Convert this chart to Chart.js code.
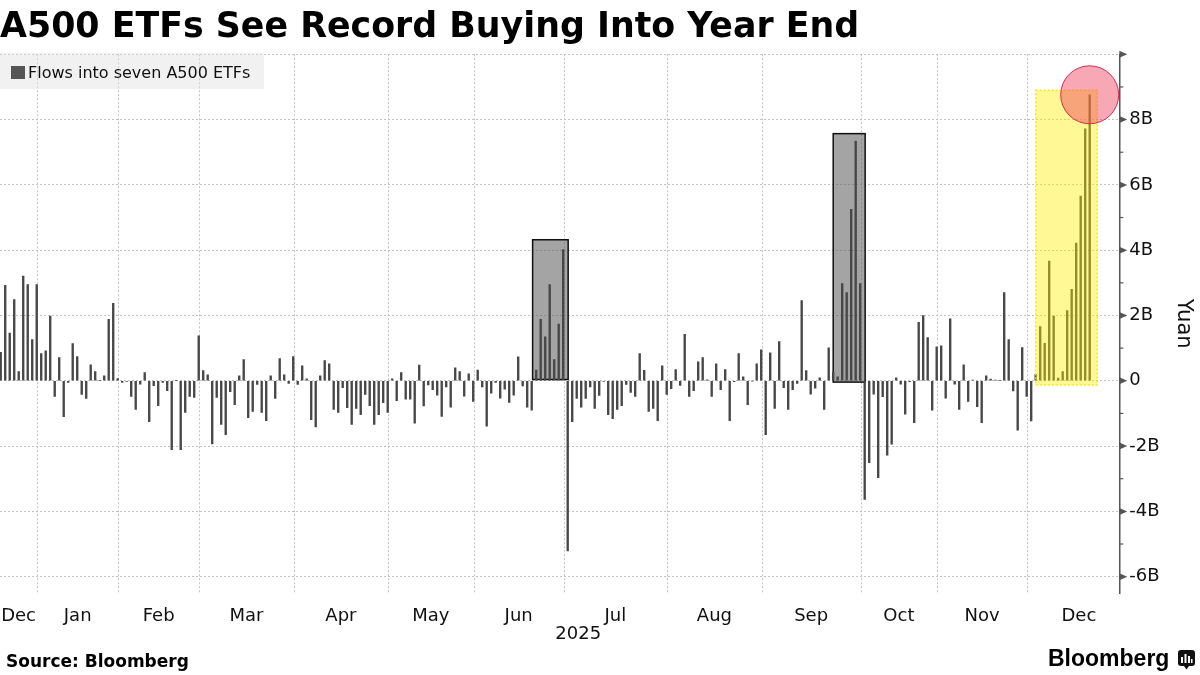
<!DOCTYPE html>
<html>
<head>
<meta charset="utf-8">
<script src="https://cdn.jsdelivr.net/npm/chart.js@4.4.1/dist/chart.umd.min.js"></script>
<style>
  html, body { margin: 0; padding: 0; background: #fff; }
  #wrap { position: relative; width: 1200px; height: 675px; overflow: hidden; font-family: 'DejaVu Sans', sans-serif; color: #000; }
  #chart { position: absolute; left: 0; top: 0; }
  #title { position: absolute; left: 0; top: 8px; font-weight: bold; font-size: 34.8px; line-height: 1; white-space: nowrap; }
  #legend { position: absolute; left: 0; top: 53px; width: 264px; height: 36px; background: rgba(225,225,225,0.45); }
  #legend .swatch { position: absolute; left: 11px; top: 13px; width: 14px; height: 13px; background: #555; }
  #legend .label { position: absolute; left: 28px; top: 12px; font-size: 16px; line-height: 1; white-space: nowrap; color: #111; }
  #source { position: absolute; left: 6px; top: 653px; font-weight: bold; font-size: 17px; line-height: 1; white-space: nowrap; }
  #brand { position: absolute; left: 1048px; top: 647px; font-family: 'Liberation Sans', sans-serif; font-weight: bold; font-size: 23px; line-height: 1; }
  #icon { position: absolute; left: 1178px; top: 650px; }
</style>
</head>
<body>
<div id="wrap">
  <canvas id="chart" width="1200" height="675"></canvas>
  <div id="title">A500 ETFs See Record Buying Into Year End</div>
  <div id="legend"><div class="swatch"></div><div class="label">Flows into seven A500 ETFs</div></div>
  <div id="source">Source: Bloomberg</div>
  <div id="brand">Bloomberg</div>
  <svg id="icon" width="17" height="20" viewBox="0 0 17 20">
    <rect x="0" y="0" width="17" height="16" rx="3" fill="#111"/>
    <path d="M6 16 L8.5 19.5 L11 16 Z" fill="#111"/>
    <rect x="3" y="7" width="2" height="6" fill="#fff"/>
    <rect x="6.5" y="4" width="2" height="9" fill="#fff"/>
    <rect x="10" y="6" width="2" height="7" fill="#fff"/>
    <rect x="13" y="9" width="1.5" height="4" fill="#fff"/>
  </svg>
</div>
<script>
// Daily flows, billion yuan, one array per month (trading days only)
const dec24 = [0.87, 2.92, 1.46, 2.49, 0.28, 3.21, 2.95, 1.26, 2.95];
const jan25 = [0.83, 0.92, 1.98, -0.48, 0.71, -1.10, -0.05, 1.14, 0.74, -0.42, -0.54, 0.49, 0.28, 0.01, 0.15, 1.88, 2.37, 0.07];
const feb25 = [-0.05, -0.02, -0.48, -0.88, -0.10, 0.25, -1.25, -0.15, -0.76, -0.05, -0.30, -2.11, 0.01, -2.11, -0.97, -0.48, -0.51, 1.38];
const mar25 = [0.31, 0.18, -1.93, -0.51, -1.34, -1.65, -0.33, -0.73, 0.15, 0.65, -1.13, -0.94, -0.11, -0.97, -1.22, 0.15, -0.54, 0.68, 0.18, -0.08, 0.74];
const apr25 = [-0.11, 0.46, 0.06, -1.19, -1.41, 0.15, 0.62, 0.52, -0.88, -0.97, -0.21, -0.82, -1.34, -0.85, -1.04, -0.42, -0.76, -1.34, -1.04, -0.67, -0.97];
const may25 = [0.06, -0.61, 0.25, -0.56, -0.56, -1.30, 0.48, -0.77, -0.13, -0.27, -0.44, -1.09, -0.19, -0.81, 0.40, 0.28, -0.47, 0.21, -0.63];
const jun25 = [0.33, -0.19, -1.39, -0.38, -0.05, -0.53, -0.26, -0.66, -0.44, 0.73, -0.16, -0.81, -0.90, 0.33, 1.88, 1.35, 2.95, 0.65, 1.74, 4.02];
const jul25 = [-5.21, -1.25, -0.54, -0.81, -0.54, -0.19, -0.85, -0.45, -0.02, -1.04, -1.16, -0.88, -0.76, -0.11, -0.36, -0.48, 0.83, 0.32, -0.94, -0.85, -1.22, 0.46, -0.42];
const aug25 = [-0.24, 0.34, -0.14, 1.42, -0.48, -0.30, 0.58, 0.71, 0.03, -0.48, 0.52, -0.27, 0.34, -1.22, -0.03, 0.83, 0.12, -0.73, -0.01, 0.52, 0.95];
const sep25 = [-1.65, 0.86, -0.85, 1.20, -0.21, -0.88, -0.27, -0.08, 2.46, 0.31, -0.41, -0.23, 0.09, -0.88, 1.01, 0.27, 0.12, 2.98, 2.70, 5.25, 7.34, 2.98];
const oct25 = [-3.63, -2.51, -0.41, -2.97, -0.49, -2.28, -1.94, 0.09, -0.10, -1.02, -0.03, -1.28, 1.79, 2.00, 1.32, -0.90, 1.04];
const nov25 = [1.07, -0.53, 1.90, -0.10, -0.88, 0.49, -0.63, 0.02, -0.79, -1.28, 0.15, 0.05, 0.02, 0.01, 2.70, 1.26, -0.31, -1.51, 1.02, -0.48];
const dec25 = [-1.23, 0.20, 1.66, 1.15, 3.67, 1.98, 0.08, 0.28, 2.15, 2.80, 4.22, 5.66, 7.72, 8.76];

const monthLabels = ['Dec', 'Jan', 'Feb', 'Mar', 'Apr', 'May', 'Jun', 'Jul', 'Aug', 'Sep', 'Oct', 'Nov', 'Dec'];
const yearLabel = '2025';
const yTickValues = [-6, -4, -2, 0, 2, 4, 6, 8];
const yTickLabels = ['-6B', '-4B', '-2B', '0', '2B', '4B', '6B', '8B'];
const dec25TradingDays = 23;

// highlighted stretches, in bar index / billion yuan
const grayBoxes = [
  { from: 118.2, to: 126.1, lo: 0.04, hi: 4.32 },
  { from: 185.0, to: 192.1, lo: -0.04, hi: 7.57 }
];
const yellowBox = { from: 230.0, to: 243.7, lo: -0.13, hi: 8.9 };

const months = [dec24, jan25, feb25, mar25, apr25, may25, jun25, jul25, aug25, sep25, oct25, nov25, dec25];
const flows = months.flat();

const xMin = -0.16, xMax = 248.58;
const yMin = -6.5, yMax = 10;

// month boundaries sit just after the last trading day of each month
let count = -1;
const monthEnds = months.slice(0, -1).map(m => (count += m.length) + 0.1);
const labelPos = months.map((m, i) => {
  const start = i === 0 ? xMin : monthEnds[i - 1];
  const end = i < monthEnds.length ? monthEnds[i] : start + dec25TradingDays;
  return (start + end) / 2;
});

const GRID = '#c2c2c2';
const AXIS = '#555';

const decorations = {
  id: 'decorations',
  beforeDatasetsDraw(chart) {
    const { ctx, chartArea: a, scales: { x, y } } = chart;
    ctx.save();
    ctx.strokeStyle = GRID;
    ctx.lineWidth = 1;
    ctx.setLineDash([2, 2]);
    monthEnds.forEach(b => {
      const px = Math.round(x.getPixelForValue(b)) + 0.5;
      ctx.beginPath();
      ctx.moveTo(px, a.top);
      ctx.lineTo(px, a.bottom);
      ctx.stroke();
    });
    ctx.setLineDash([]);
    grayBoxes.forEach(b => {
      const x0 = x.getPixelForValue(b.from), x1 = x.getPixelForValue(b.to);
      const y0 = y.getPixelForValue(b.hi), y1 = y.getPixelForValue(b.lo);
      ctx.fillStyle = 'rgba(90,90,90,0.55)';
      ctx.fillRect(x0, y0, x1 - x0, y1 - y0);
      ctx.strokeStyle = '#111';
      ctx.lineWidth = 1.5;
      ctx.strokeRect(x0, y0, x1 - x0, y1 - y0);
    });
    ctx.restore();
  },
  afterDatasetsDraw(chart) {
    const { ctx, scales: { x, y } } = chart;
    ctx.save();
    const b = yellowBox;
    const x0 = x.getPixelForValue(b.from), x1 = x.getPixelForValue(b.to);
    const y0 = y.getPixelForValue(b.hi), y1 = y.getPixelForValue(b.lo);
    ctx.fillStyle = 'rgba(255,238,0,0.42)';
    ctx.fillRect(x0, y0, x1 - x0, y1 - y0);
    ctx.strokeStyle = 'rgba(255,228,0,0.9)';
    ctx.lineWidth = 1.5;
    ctx.setLineDash([2, 2]);
    ctx.strokeRect(x0, y0, x1 - x0, y1 - y0);
    ctx.setLineDash([]);

    // circle on the latest reading
    const last = flows.length - 1;
    const cx = x.getPixelForValue(last), cy = y.getPixelForValue(flows[last]);
    ctx.beginPath();
    ctx.arc(cx, cy, 29, 0, Math.PI * 2);
    ctx.fillStyle = 'rgba(240,60,90,0.45)';
    ctx.fill();
    ctx.strokeStyle = 'rgba(210,30,70,0.9)';
    ctx.lineWidth = 1;
    ctx.stroke();
    ctx.restore();
  },
  afterDraw(chart) {
    const { ctx, chartArea: a, scales: { x, y } } = chart;
    ctx.save();
    // tick marks on the right axis
    ctx.fillStyle = AXIS;
    ctx.strokeStyle = AXIS;
    ctx.lineWidth = 1.2;
    y.ticks.forEach(t => {
      const py = y.getPixelForValue(t.value);
      if (t.value % 2 === 0) {
        ctx.beginPath();
        ctx.moveTo(a.right, py - 3.5);
        ctx.lineTo(a.right + 8, py);
        ctx.lineTo(a.right, py + 3.5);
        ctx.closePath();
        ctx.fill();
      } else {
        ctx.beginPath();
        ctx.moveTo(a.right, py);
        ctx.lineTo(a.right + 4, py);
        ctx.stroke();
      }
    });
    // year under the months
    ctx.fillStyle = '#111';
    ctx.font = '18px "DejaVu Sans"';
    ctx.textAlign = 'center';
    ctx.textBaseline = 'middle';
    ctx.fillText(yearLabel, (x.getPixelForValue(monthEnds[0]) + a.right) / 2, 634);
    ctx.restore();
  }
};

Chart.defaults.font.family = "'DejaVu Sans', sans-serif";
Chart.defaults.color = '#111';

new Chart(document.getElementById('chart'), {
  type: 'bar',
  data: {
    datasets: [{
      label: 'Flows into seven A500 ETFs',
      data: flows.map((v, i) => ({ x: i, y: v })),
      backgroundColor: '#474747',
      borderWidth: 0,
      barThickness: 1.7
    }]
  },
  options: {
    responsive: false,
    animation: false,
    layout: { padding: { top: 54.3, left: 0, right: 0, bottom: 0 } },
    plugins: { legend: { display: false }, tooltip: { enabled: false } },
    scales: {
      x: {
        type: 'linear',
        offset: false,
        min: xMin,
        max: xMax,
        grid: { display: false },
        border: { display: false },
        afterBuildTicks: scale => { scale.ticks = labelPos.map(v => ({ value: v })); },
        afterFit: scale => { scale.height = 82; scale.paddingLeft = 0; scale.paddingRight = 0; },
        ticks: {
          autoSkip: false,
          maxRotation: 0,
          minRotation: 0,
          padding: 5,
          font: { size: 18 },
          callback: (v, i) => monthLabels[i]
        }
      },
      y: {
        position: 'right',
        min: yMin,
        max: yMax,
        grid: {
          drawTicks: false,
          lineWidth: 1,
          color: c => (c.tick && c.tick.value % 2 === 0) ? GRID : 'rgba(0,0,0,0)'
        },
        border: { display: true, color: AXIS, width: 1.5, dash: [2, 2] },
        afterBuildTicks: scale => {
          const ticks = [];
          for (let v = Math.ceil(yMin); v <= yMax; v++) ticks.push({ value: v });
          scale.ticks = ticks;
        },
        afterFit: scale => { scale.width = 80.7; scale.paddingTop = 0; scale.paddingBottom = 0; },
        ticks: {
          autoSkip: false,
          padding: 10,
          font: { size: 18 },
          callback: v => {
            const i = yTickValues.indexOf(v);
            return i >= 0 ? yTickLabels[i] : '';
          }
        },
        title: {
          display: true,
          text: 'Yuan',
          font: { size: 21 },
          padding: { top: 4, bottom: 0 }
        }
      }
    }
  },
  plugins: [decorations]
});
</script>
</body>
</html>
